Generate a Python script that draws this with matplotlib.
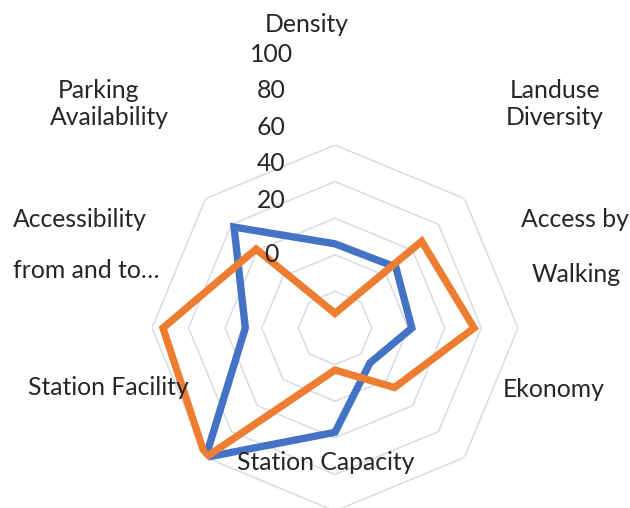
import numpy as np
import matplotlib
matplotlib.use("Agg")
import matplotlib.pyplot as plt
from matplotlib.transforms import offset_copy

# categories clockwise from the top
categories = [
    "Density",
    "Landuse Diversity",
    "Access by Walking",
    "Ekonomy",
    "Station Capacity",
    "Station Facility",
    "Accessibility from and to...",
    "Parking Availability",
]
series_1 = [46, 47, 42, 27, 57, 100, 49, 78]  # blue
series_2 = [8, 67, 76, 46, 23, 100, 94, 61]   # orange
ring_values = [20, 40, 60, 80, 100]
tick_labels = ["0", "20", "40", "60", "80", "100"]

W, H = 630, 508
BLUE = "#4472C4"
ORANGE = "#ED7D31"
GRID = "#D6DCE6"
TEXT = "#262626"
FONT = "Lato"
FS = 17.8

fig = plt.figure(figsize=(W / 100, H / 100), dpi=100)

# polar area: centre at (335, 328) px, radius 183 px
cx, cy, rad = 335, 328, 183
ax = fig.add_axes([(cx - rad) / W, (H - cy - rad) / H, 2 * rad / W, 2 * rad / H],
                  projection="polar")
ax.set_theta_zero_location("N")
ax.set_theta_direction(-1)
ax.set_ylim(0, 100)
ax.axis("off")

n = len(categories)
angles = np.linspace(0, 2 * np.pi, n, endpoint=False)

# octagonal grid rings
for v in ring_values:
    ax.fill(angles, [v] * n, fill=False, edgecolor=GRID, linewidth=1.1, zorder=1)

for vals, col, z in [(series_1, BLUE, 3), (series_2, ORANGE, 4)]:
    ax.fill(angles, vals, fill=False, edgecolor=col, linewidth=5.3,
            joinstyle="miter", zorder=z)

# radial tick labels sit shifted up and left of the top spoke
tick_vals = [0] + ring_values
for v, lab in zip(tick_vals, tick_labels):
    dy = 74 if v == 0 else 91
    tr = offset_copy(ax.transData, fig=fig, x=-64, y=dy, units="dots")
    ax.text(0, v, lab, transform=tr, ha="center", va="center",
            fontsize=FS, color=TEXT, family=FONT, zorder=10)

# category labels, one text per line (pixel position of centre / baseline)
label_lines = [
    ("Density", 307, 32, "center"),
    ("Landuse", 555, 98, "center"),
    ("Diversity", 555, 125, "center"),
    ("Access by", 575, 227, "center"),
    ("Walking", 576, 282, "center"),
    ("Ekonomy", 554, 397, "center"),
    ("Station Capacity", 326, 470, "center"),
    ("Station Facility", 108, 395, "center"),
    ("Accessibility", 13, 227, "left"),
    ("from and to…", 13, 278, "left"),
    ("Parking", 99, 98, "center"),
    ("Availability", 109, 125, "center"),
]
for txt, x, y, ha in label_lines:
    fig.text(x / W, 1 - y / H, txt, ha=ha, va="baseline", fontsize=FS,
             color=TEXT, family=FONT, zorder=10)

fig.savefig("out.png", dpi=100)
